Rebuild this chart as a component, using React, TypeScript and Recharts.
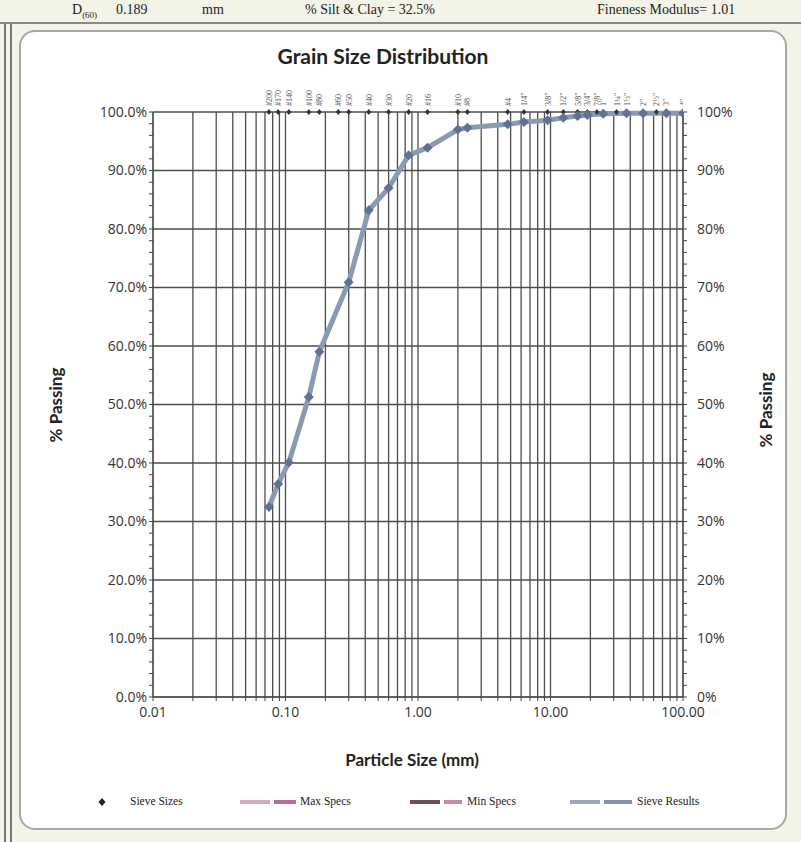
import React from "react";
import { ComposedChart, Line, Scatter, XAxis, YAxis, CartesianGrid } from "recharts";

// sieve openings (mm) marked along the top of the plot
const sieveLabels = ['#200', '#170', '#140', '#100', '#80', '#60', '#50', '#40', '#30', '#20', '#16', '#10', '#8', '#4', '1/4"', '3/8"', '1/2"', '5/8"', '3/4"', '7/8"', '1"', '1¼"', '1½"', '2"', '2½"', '3"', '4"'];
const sieveSizes = [0.075, 0.088, 0.106, 0.15, 0.18, 0.25, 0.3, 0.425, 0.6, 0.85, 1.18, 2.0, 2.36, 4.75, 6.3, 9.5, 12.5, 16, 19, 22.4, 25, 31.5, 37.5, 50, 63, 75, 100];

// sieve results
const resultSizes = [0.075, 0.088, 0.106, 0.15, 0.18, 0.3, 0.425, 0.6, 0.85, 1.18, 2.0, 2.36, 4.75, 6.3, 9.5, 12.5, 16, 19, 25, 37.5, 50, 75, 100];
const resultPassing = [32.5, 36.4, 40.1, 51.3, 59.0, 70.9, 83.2, 87.0, 92.6, 93.9, 97.0, 97.3, 97.9, 98.3, 98.6, 99.0, 99.3, 99.5, 99.7, 99.8, 99.8, 99.8, 99.8];

const decadeTicks = [0.01, 0.1, 1, 10, 100];
const xTicks = [
  0.01, 0.02, 0.03, 0.04, 0.05, 0.06, 0.07, 0.08, 0.09,
  0.1, 0.2, 0.3, 0.4, 0.5, 0.6, 0.7, 0.8, 0.9,
  1, 2, 3, 4, 5, 6, 7, 8, 9,
  10, 20, 30, 40, 50, 60, 70, 80, 90, 100,
];
const yGrid = [0, 10, 20, 30, 40, 50, 60, 70, 80, 90, 100];
const yTicks = [0, 2, 4, 6, 8, 10, 12, 14, 16, 18, 20, 22, 24, 26, 28, 30, 32, 34, 36, 38, 40, 42, 44, 46, 48, 50, 52, 54, 56, 58, 60, 62, 64, 66, 68, 70, 72, 74, 76, 78, 80, 82, 84, 86, 88, 90, 92, 94, 96, 98, 100];

const resultData = resultSizes.map((s, i) => ({ size: s, passing: resultPassing[i] }));
const sieveData = sieveSizes.map((s, i) => ({ size: s, passing: 100, label: sieveLabels[i] }));

const tickFont = { fontFamily: "Open Sans", fontSize: 14, fill: "#333" };

const SieveMark = (props: any) => {
  const { cx, cy, payload } = props;
  const tx = cx + 3;
  const ty = cy - 6;
  return (
    <g>
      <path d={`M${cx},${cy - 3}L${cx + 2.5},${cy}L${cx},${cy + 3}L${cx - 2.5},${cy}Z`} fill="#333" />
      <text x={tx} y={ty} transform={`rotate(-90 ${tx} ${ty})`} fontSize={8} fontFamily="Liberation Serif" fill="#555">
        {payload.label}
      </text>
    </g>
  );
};

const Diamond = (props: any) => {
  const { cx, cy, index } = props;
  return (
    <path key={`d-${index}`} d={`M${cx},${cy - 5}L${cx + 5},${cy}L${cx},${cy + 5}L${cx - 5},${cy}Z`} fill="#5f7291" />
  );
};

const legendText = { position: "absolute" as const, top: 795, fontFamily: "Liberation Serif", fontSize: 11.5, color: "#222" };

export default function App() {
  return (
    <div style={{ position: "absolute", left: 0, top: 0, width: 801, height: 842, background: "#f4f3e7", overflow: "hidden" }}>
      <div style={{ position: "absolute", left: 4, top: 24, width: 4, height: 830, borderLeft: "2px solid #777", borderRight: "2px solid #777" }} />
      <div style={{ position: "absolute", left: 0, top: 22, width: 801, height: 0, borderTop: "2px solid #888" }} />
      <div style={{ position: "absolute", left: 0, top: 2, width: 801, fontFamily: "Liberation Serif", fontSize: 14, lineHeight: "16px", color: "#222", whiteSpace: "nowrap" }}>
        <span style={{ position: "absolute", left: 72 }}>D<sub style={{ fontSize: 9, lineHeight: "9px" }}>(60)</sub></span>
        <span style={{ position: "absolute", left: 116 }}>0.189</span>
        <span style={{ position: "absolute", left: 202 }}>mm</span>
        <span style={{ position: "absolute", left: 305 }}>% Silt &amp; Clay = 32.5%</span>
        <span style={{ position: "absolute", left: 597 }}>Fineness Modulus= 1.01</span>
      </div>
      <div style={{ position: "absolute", left: 19, top: 30, width: 764, height: 796, border: "2px solid #a8a8a8", borderRadius: 16, background: "#fff" }} />

      <div style={{ position: "absolute", left: 0, top: 0 }}>
        <ComposedChart width={801} height={842} margin={{ top: 112, right: 58, bottom: 115, left: 93 }}>
          <CartesianGrid stroke="#4d4d4d" strokeWidth={1.3} horizontalValues={yGrid} yAxisId="left" />
          <XAxis
            dataKey="size"
            type="number"
            scale="log"
            domain={[0.01, 100]}
            allowDataOverflow
            ticks={xTicks}
            interval={0}
            height={30}
            tickSize={4}
            tick={tickFont}
            tickMargin={6}
            stroke="#444"
            tickFormatter={(v: number) => (decadeTicks.includes(v) ? v.toFixed(2) : "")}
          />
          <YAxis
            yAxisId="left"
            type="number"
            domain={[0, 100]}
            ticks={yTicks}
            interval={0}
            width={60}
            tickSize={4}
            tick={tickFont}
            stroke="#444"
            tickFormatter={(v: number) => (v % 10 === 0 ? `${v.toFixed(1)}%` : "")}
          />
          <YAxis
            yAxisId="right"
            orientation="right"
            type="number"
            domain={[0, 100]}
            ticks={yTicks}
            interval={0}
            width={60}
            tickSize={4}
            tick={tickFont}
            tickMargin={10}
            stroke="#444"
            tickFormatter={(v: number) => (v % 10 === 0 ? `${v}%` : "")}
          />
          <Scatter yAxisId="right" data={sieveData} dataKey="passing" shape={SieveMark} isAnimationActive={false} />
          <Line
            yAxisId="left"
            data={resultData}
            dataKey="passing"
            stroke="#8a9ab2"
            strokeWidth={5}
            dot={Diamond}
            activeDot={false}
            isAnimationActive={false}
          />
        </ComposedChart>
      </div>

      <div style={{ position: "absolute", left: 183, top: 43, width: 400, textAlign: "center", fontFamily: "Lato", fontWeight: 700, fontSize: 21, color: "#222" }}>
        Grain Size Distribution
      </div>
      <div style={{ position: "absolute", left: 262, top: 749, width: 300, textAlign: "center", fontFamily: "Lato", fontWeight: 700, fontSize: 17, color: "#222" }}>
        Particle Size (mm)
      </div>
      <div style={{ position: "absolute", left: 55, top: 405, transform: "translate(-50%, -50%) rotate(-90deg)", fontFamily: "Lato", fontWeight: 700, fontSize: 17, color: "#222", whiteSpace: "nowrap" }}>
        % Passing
      </div>
      <div style={{ position: "absolute", left: 765, top: 410, transform: "translate(-50%, -50%) rotate(-90deg)", fontFamily: "Lato", fontWeight: 700, fontSize: 17, color: "#222", whiteSpace: "nowrap" }}>
        % Passing
      </div>

      {/* legend */}
      <svg style={{ position: "absolute", left: 0, top: 0 }} width={801} height={842} pointerEvents="none">
        <path d="M102,798L105.5,802L102,806L98.5,802Z" fill="#222" />
        <line x1={240} y1={802} x2={270} y2={802} stroke="#d8a6bd" strokeWidth={4} />
        <line x1={274} y1={802} x2={296} y2={802} stroke="#b07090" strokeWidth={4} />
        <line x1={410} y1={802} x2={440} y2={802} stroke="#6b4d5c" strokeWidth={4} />
        <line x1={444} y1={802} x2={462} y2={802} stroke="#c88aa6" strokeWidth={4} />
        <line x1={570} y1={802} x2={600} y2={802} stroke="#9aa8bc" strokeWidth={4} />
        <line x1={604} y1={802} x2={632} y2={802} stroke="#7f93b0" strokeWidth={4} />
      </svg>
      <div style={{ ...legendText, left: 130 }}>Sieve Sizes</div>
      <div style={{ ...legendText, left: 300 }}>Max Specs</div>
      <div style={{ ...legendText, left: 467 }}>Min Specs</div>
      <div style={{ ...legendText, left: 637 }}>Sieve Results</div>
    </div>
  );
}
